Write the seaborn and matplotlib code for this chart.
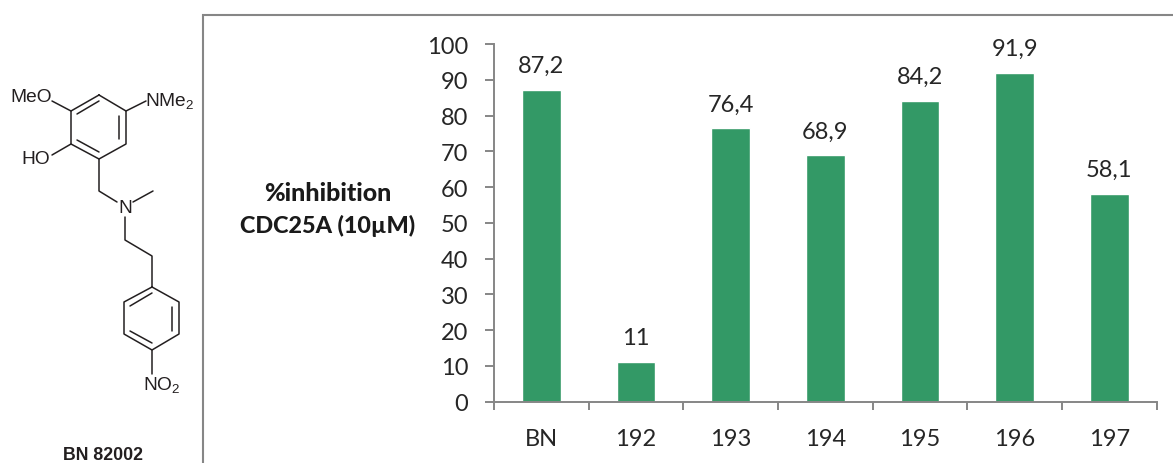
import matplotlib
matplotlib.use('Agg')
import matplotlib.pyplot as plt
import pandas as pd
import seaborn as sns

# Chart data
compounds = ['BN', '192', '193', '194', '195', '196', '197']
inhibition = [87.2, 11, 76.4, 68.9, 84.2, 91.9, 58.1]
value_labels = ['87,2', '11', '76,4', '68,9', '84,2', '91,9', '58,1']
yticks = list(range(0, 101, 10))

# Structure drawing, in image pixels
ring_top = [(99, 96), (126, 112), (126, 145), (99, 160), (71, 145), (71, 112), (99, 96)]
ring_bottom = [(152, 288), (179, 303), (179, 335), (152, 351), (124, 335), (124, 303), (152, 288)]
inner_bonds = [
    [(77, 115), (99, 102)], [(119, 117), (119, 140)], [(77, 141), (99, 153)],
    [(130, 307), (152, 294)], [(172, 308), (172, 332)], [(130, 332), (152, 344)],
]
chains = [
    [(71, 112), (52, 102)],
    [(126, 112), (146, 102)],
    [(71, 145), (52, 156)],
    [(99, 160), (99, 192), (117, 203)],
    [(133, 203), (153, 192)],
    [(125, 218), (125, 241), (152, 257), (152, 288)],
    [(152, 351), (152, 375)],
]
atom_labels = [
    ('MeO', 31, 97), ('NMe$_2$', 170, 101), ('HO', 36, 160),
    ('N', 125, 209), ('NO$_2$', 162, 385),
]

sns.set_theme(style='white')
plt.rcParams['font.family'] = ['Lato', 'DejaVu Sans']
plt.rcParams['mathtext.fontset'] = 'custom'
plt.rcParams['mathtext.rm'] = 'Liberation Sans'
plt.rcParams['mathtext.default'] = 'rm'

W, H = 1173, 464
fig = plt.figure(figsize=(W / 100, H / 100), dpi=100)

# background layer: frame lines and the molecule
bg = fig.add_axes([0, 0, 1, 1])
bg.set_xlim(0, W)
bg.set_ylim(H, 0)
bg.axis('off')
bg.plot([203, 203, W], [H, 16, 16], color='#868686', lw=1.5, solid_joinstyle='miter')
for pts in [ring_top, ring_bottom] + inner_bonds + chains:
    bg.plot([p[0] for p in pts], [p[1] for p in pts], color='#231f20', lw=1.1)
for txt, x, y in atom_labels:
    bg.text(x, y, txt, family='Liberation Sans', fontsize=13.8, color='#231f20',
            ha='center', va='center')
bg.text(103, 456, 'BN 82002', family='Liberation Sans', fontsize=12.8, fontweight='bold',
        color='#231f20', ha='center', va='center')
bg.text(328, 194, '%inhibition', fontsize=18, fontweight=900, color='#1a1a1a',
        ha='center', va='center')
bg.text(328, 226, 'CDC25A (10µM)', fontsize=16.8, fontweight=900, color='#1a1a1a',
        ha='center', va='center')

# bar chart
left, right, top, bottom = 494, 1156.6, 45, 402.7
ax = fig.add_axes([left / W, 1 - bottom / H, (right - left) / W, (bottom - top) / H])
ax.patch.set_alpha(0)
df = pd.DataFrame({'compound': compounds, 'inhibition': inhibition})
sns.barplot(data=df, x='compound', y='inhibition', color='#339966', saturation=1,
            width=0.41, ax=ax)
ax.set_xlim(-0.5, len(compounds) - 0.5)
ax.set_ylim(0, 100)
ax.set_yticks(yticks)
ax.set_xlabel('')
ax.set_ylabel('')
ax.bar_label(ax.containers[0], labels=value_labels, padding=10, fontsize=17, color='#262626')

sns.despine(ax=ax)
for side in ['left', 'bottom']:
    ax.spines[side].set_color('#868686')
    ax.spines[side].set_linewidth(1.4)

ax.set_xticks([i - 0.5 for i in range(len(compounds) + 1)], minor=True)
ax.tick_params(axis='x', which='major', bottom=False, pad=13, labelsize=17, labelcolor='#262626')
ax.tick_params(axis='x', which='minor', bottom=True, length=6, width=1.4, color='#868686', direction='out')
ax.tick_params(axis='y', length=6.5, width=1.4, color='#868686', pad=12, labelsize=17,
               labelcolor='#262626', direction='out', left=True)

fig.savefig('out.png', dpi=100)
